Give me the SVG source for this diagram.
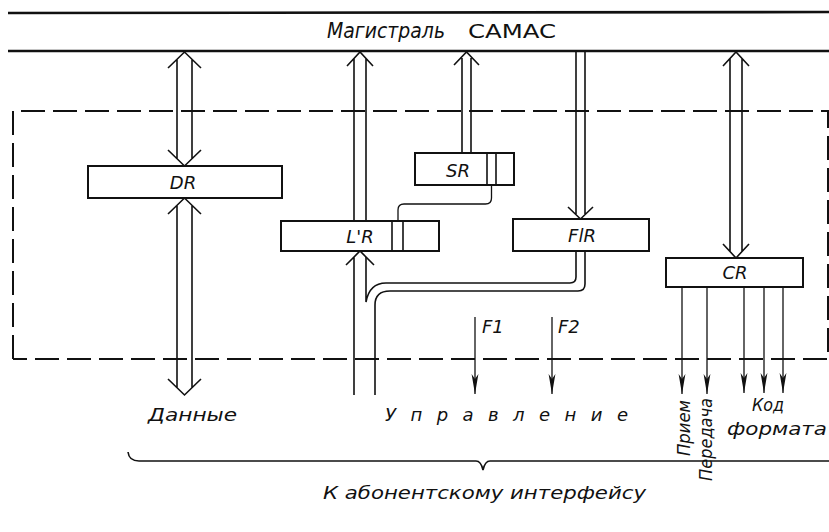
<svg xmlns="http://www.w3.org/2000/svg" width="829" height="532" viewBox="0 0 829 532">
<defs>
<style>
.bus{stroke:#111;stroke-width:2.6;fill:none}
.ln{stroke:#111;stroke-width:1.6;fill:none}
.thin{stroke:#111;stroke-width:1.3;fill:none}
.box{fill:#fff;stroke:#111;stroke-width:2}
.dash{stroke:#111;stroke-width:2;fill:none;stroke-dasharray:24 8}
text{font-family:"DejaVu Sans","Liberation Sans",sans-serif;fill:#111}
.it{font-style:italic}
.lab{font-size:18px;font-style:italic}
</style>
<marker id="ah" markerUnits="userSpaceOnUse" markerWidth="21" markerHeight="8" viewBox="-20 -4 21 8" refX="0" refY="0" orient="auto">
<path d="M0,0 L-20,-3.4 L-15,0 L-20,3.4 Z" fill="#111"/>
</marker>
</defs>
<rect width="829" height="532" fill="#fff"/>

<g id="bus">
<line class="bus" x1="8" y1="13" x2="829" y2="12"/>
<line class="bus" x1="8" y1="51" x2="829" y2="51"/>
<text x="327" y="38" font-size="21" class="it" textLength="118" lengthAdjust="spacingAndGlyphs">Магистраль</text>
<text x="468" y="38" font-size="20" textLength="88" lengthAdjust="spacingAndGlyphs">CAMAC</text>
</g>

<g id="frame">
<path class="dash" d="M13,359 V111 H828 V359 H13"/>
</g>

<g id="connectors">
<path class="ln" d="M177,59 V159 M192,59 V159 M168,68 L184.5,52 L201,68 M168,150 L184.5,166 L201,150"/>
<path class="ln" d="M177,205 V388 M192,205 V388 M168,214 L184.5,198 L201,214 M168,379 L184.5,395 L201,379"/>
<path class="ln" d="M354,58 V221 M366,58 V221 M347,66 L360,52 L373,66"/>
<path class="ln" d="M346,265 L360,251 L374,265 M354,257 V395"/>
<path class="ln" d="M366,257 V302 C368,291 374,283 386,283 H570 Q576,283 576,277 V251"/>
<path class="ln" d="M375,395 V305 C375,295 380,291 390,291 H578 Q585,291 585,284 V251"/>
<path class="ln" d="M462,58 V153 M471,58 V153 M454,65 L466.5,52 L479,65"/>
<path class="thin" d="M491.5,185 V198 Q491.5,204 485.5,204 H404 Q398,204 398,210 V221"/>
<path class="ln" d="M576,51 V214 M585,51 V214 M568,207 L580.5,219 L593,207"/>
<path class="ln" d="M730,58 V252 M742,58 V252 M723,66 L736,52 L749,66 M723,244 L736,258 L749,244"/>
<g class="thin" marker-end="url(#ah)">
<line x1="682" y1="287" x2="682" y2="394"/>
<line x1="707" y1="287" x2="707" y2="394"/>
<line x1="744" y1="287" x2="744" y2="393"/>
<line x1="764" y1="287" x2="764" y2="393"/>
<line x1="783" y1="287" x2="783" y2="393"/>
<line x1="475" y1="317" x2="475" y2="394"/>
<line x1="552" y1="317" x2="552" y2="394"/>
</g>
</g>

<g id="DR">
<rect class="box" x="88" y="166" width="194" height="32"/>
<text class="lab" x="183" y="189" text-anchor="middle">DR</text>
</g>
<g id="LR">
<rect class="box" x="281" y="221" width="158" height="30"/>
<line class="ln" x1="392" y1="221" x2="392" y2="251"/>
<line class="ln" x1="403" y1="221" x2="403" y2="251"/>
<text class="lab" x="360" y="243" text-anchor="middle">L'R</text>
</g>
<g id="SR">
<rect class="box" x="415" y="153" width="99" height="32"/>
<line class="ln" x1="487" y1="153" x2="487" y2="185"/>
<line class="ln" x1="496" y1="153" x2="496" y2="185"/>
<text class="lab" x="458" y="177" text-anchor="middle">SR</text>
</g>
<g id="F1R">
<rect class="box" x="513" y="219" width="136" height="32"/>
<text class="lab" x="582" y="242" text-anchor="middle">FlR</text>
</g>
<g id="CR">
<rect class="box" x="666" y="258" width="137" height="29"/>
<text class="lab" x="735" y="279" text-anchor="middle">CR</text>
</g>

<g id="labels">
<text class="lab" x="482" y="333">F1</text>
<text class="lab" x="558" y="333">F2</text>
<text class="lab" x="148" y="421" font-size="19" textLength="89" lengthAdjust="spacingAndGlyphs">Данные</text>
<text class="lab" x="385" y="421" font-size="20" textLength="243" lengthAdjust="spacing">Управление</text>
<text class="lab" font-size="20" transform="translate(690,456) rotate(-90)" textLength="56" lengthAdjust="spacingAndGlyphs">Прием</text>
<text class="lab" font-size="20" transform="translate(712,481) rotate(-90)" textLength="83" lengthAdjust="spacingAndGlyphs">Передача</text>
<text class="lab" x="752" y="411" font-size="20" textLength="32" lengthAdjust="spacingAndGlyphs">Код</text>
<text class="lab" x="727" y="435" font-size="20" textLength="100" lengthAdjust="spacingAndGlyphs">формата</text>
<path class="ln" d="M128,452 Q129,461 139,461 H476 Q481,461 483,470 Q485,461 490,461 H829"/>
<text class="lab" x="323" y="499" font-size="18" textLength="323" lengthAdjust="spacingAndGlyphs">К абонентскому интерфейсу</text>
</g>
</svg>
